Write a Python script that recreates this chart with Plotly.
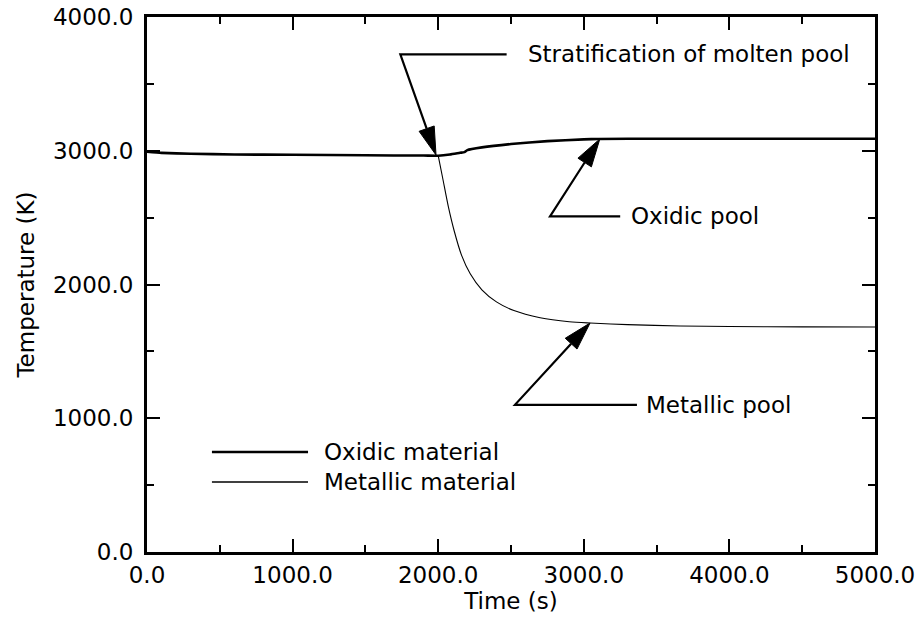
import math
import plotly.graph_objects as go

# ---- data -------------------------------------------------------------
oxide_time = [0, 100, 300, 600, 1000, 1500, 1900, 2000, 2080, 2150, 2180,
              2200, 2300, 2500, 2750, 3000, 3100, 3500, 4000, 5000]
oxide_temp = [2992, 2984, 2978, 2972, 2970, 2966, 2964, 2963, 2972, 2985,
              2990, 3005, 3025, 3050, 3072, 3085, 3088, 3090, 3090, 3090]

metal_time = [2000, 2030, 2070, 2110, 2160, 2220, 2300, 2400, 2520, 2700,
              2900, 3043, 3300, 3661, 4000, 4500, 5000]
metal_temp = [2963, 2800, 2580, 2400, 2220, 2080, 1960, 1870, 1805, 1752,
              1722, 1712, 1700, 1690, 1686, 1683, 1682]

x_ticks = [0, 1000, 2000, 3000, 4000, 5000]
y_ticks = [0, 1000, 2000, 3000, 4000]

# ---- layout geometry --------------------------------------------------
W, H = 919, 627
ML, MR, MT, MB = 147, 44, 17, 75
X_RANGE = (0, 5000)
Y_RANGE = (0, 4000)
PW, PH = W - ML - MR, H - MT - MB
SX = PW / (X_RANGE[1] - X_RANGE[0])   # px per second
SY = PH / (Y_RANGE[1] - Y_RANGE[0])   # px per kelvin

FONT = "DejaVu Sans"
FS = 23

fig = go.Figure()

fig.add_trace(go.Scatter(x=oxide_time, y=oxide_temp, mode="lines",
                         line=dict(color="black", width=2.6, shape="spline",
                                   smoothing=0.5),
                         showlegend=False, hoverinfo="skip"))
fig.add_trace(go.Scatter(x=metal_time, y=metal_temp, mode="lines",
                         line=dict(color="black", width=1.1, shape="spline",
                                   smoothing=0.8),
                         showlegend=False, hoverinfo="skip"))

shapes = []
annotations = []


def elbow_arrow(tip, elbow, line_end, text, text_x, L=28, w=8):
    """Horizontal leader from the label, then a diagonal arrow to the curve."""
    tx, ty = tip
    ex, ey = elbow
    # direction in pixel space (y grows downward on screen)
    dx = (tx - ex) * SX
    dy = -(ty - ey) * SY
    n = math.hypot(dx, dy)
    ux, uy = dx / n, dy / n
    bx_px, by_px = -L * ux, -L * uy
    px_, py_ = -uy * w, ux * w

    def to_data(ox, oy):
        return tx + ox / SX, ty - oy / SY

    base = to_data(bx_px, by_px)
    c1 = to_data(bx_px + px_, by_px + py_)
    c2 = to_data(bx_px - px_, by_px - py_)
    shapes.append(dict(type="path", xref="x", yref="y",
                       path=f"M{line_end},{ey} L{ex},{ey} L{base[0]},{base[1]}",
                       line=dict(color="black", width=2.2)))
    shapes.append(dict(type="path", xref="x", yref="y",
                       path=f"M{tx},{ty} L{c1[0]},{c1[1]} L{c2[0]},{c2[1]} Z",
                       fillcolor="black", line=dict(color="black", width=1)))
    annotations.append(dict(x=text_x, y=ey, xref="x", yref="y", text=text,
                            showarrow=False, xanchor="left", yanchor="middle",
                            font=dict(family=FONT, size=FS, color="black")))


elbow_arrow(tip=(1985, 2968), elbow=(1740, 3720), line_end=2470,
            text="Stratification of molten pool", text_x=2600)
elbow_arrow(tip=(3110, 3088), elbow=(2768, 2510), line_end=3250,
            text="Oxidic pool", text_x=3310)
elbow_arrow(tip=(3043, 1712), elbow=(2527, 1100), line_end=3365,
            text="Metallic pool", text_x=3415)

# legend drawn inside the axes
legend_items = [("Oxidic material", 748, 2.6), ("Metallic material", 523, 1.4)]
for label, yv, lw in legend_items:
    shapes.append(dict(type="line", xref="x", yref="y", x0=446, x1=1106,
                       y0=yv, y1=yv, line=dict(color="black", width=lw)))
    annotations.append(dict(x=1200, y=yv, xref="x", yref="y", text=label,
                            showarrow=False, xanchor="left", yanchor="middle",
                            font=dict(family=FONT, size=FS, color="black")))

axis_common = dict(showgrid=False, zeroline=False, showline=True,
                   linecolor="black", linewidth=3, mirror="ticks",
                   ticks="inside", ticklen=13, tickwidth=2.2,
                   tickcolor="black", automargin=False,
                   tickfont=dict(family=FONT, size=FS, color="black"))

fig.update_layout(
    width=W, height=H,
    margin=dict(l=ML, r=MR, t=MT, b=MB, autoexpand=False),
    paper_bgcolor="white", plot_bgcolor="white",
    shapes=shapes, annotations=annotations,
    xaxis=dict(range=list(X_RANGE), tickvals=x_ticks,
               ticktext=[f"{v:.1f}" for v in x_ticks],
               title=dict(text="Time (s)", standoff=0,
                          font=dict(family=FONT, size=FS, color="black")),
               minor=dict(dtick=500, ticks="inside", ticklen=7,
                          tickwidth=2, tickcolor="black"),
               **axis_common),
    yaxis=dict(range=list(Y_RANGE), tickvals=y_ticks,
               ticktext=[f"{v:.1f}" for v in y_ticks],
               ticklabelstandoff=6,
               title=dict(text="Temperature (K)", standoff=12,
                          font=dict(family=FONT, size=FS, color="black")),
               minor=dict(dtick=500, ticks="inside", ticklen=7,
                          tickwidth=2, tickcolor="black"),
               **axis_common),
)

fig.write_html("out.html")
